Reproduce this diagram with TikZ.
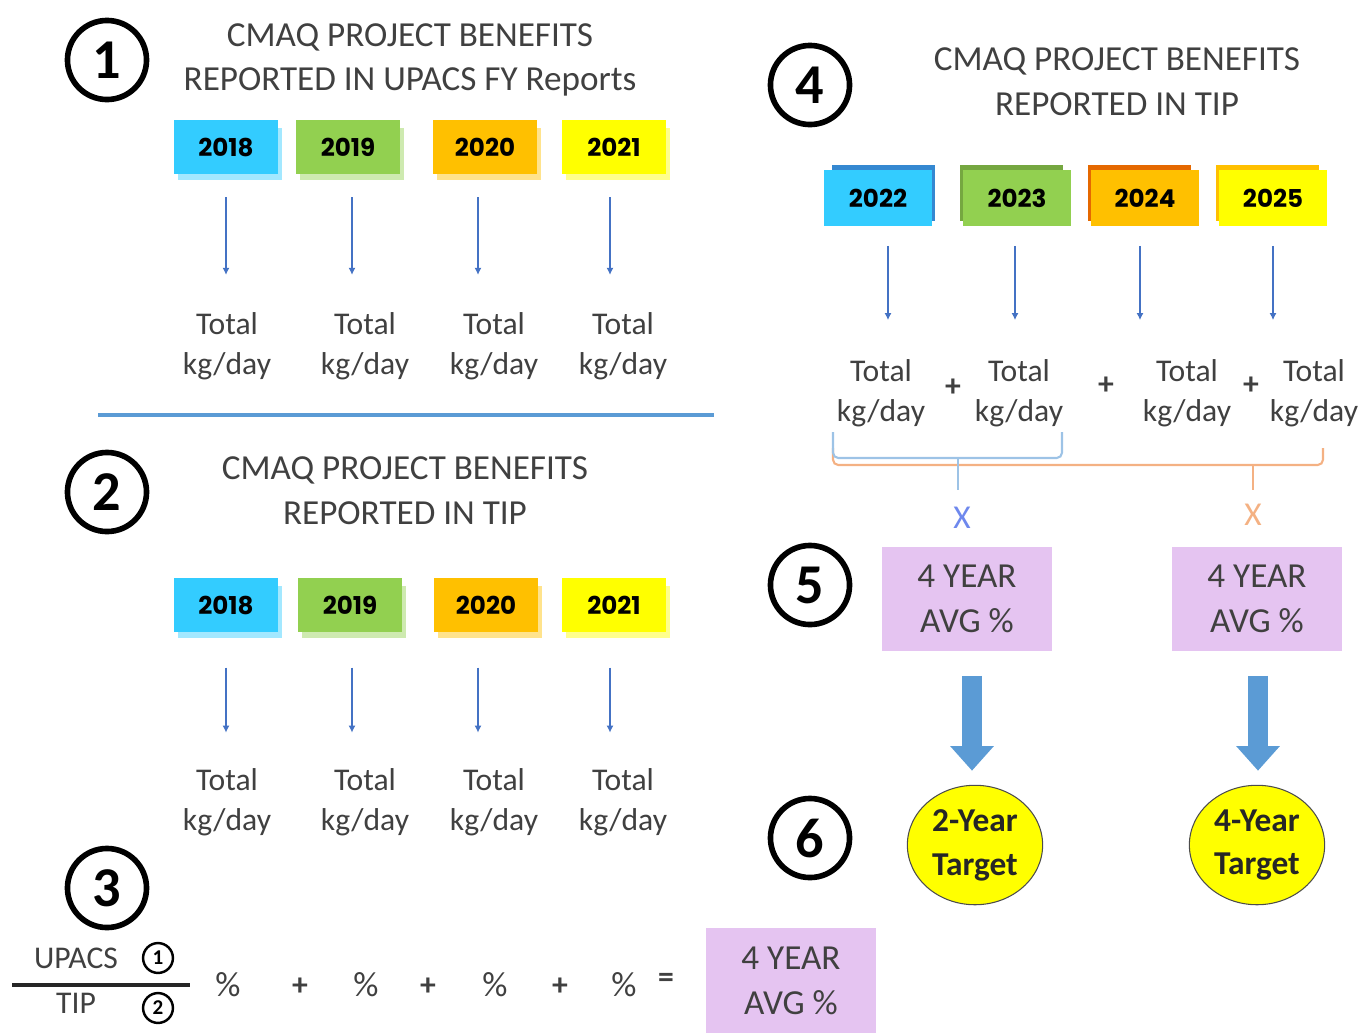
\documentclass[tikz,border=0pt]{standalone}
\usepackage{fontspec}
\setmainfont{Carlito}
\newfontfamily\yearfont{Poppins}
\usetikzlibrary{arrows.meta,calc,shapes.geometric}
\definecolor{txtgray}{RGB}{64,64,64}
\definecolor{cyanbox}{RGB}{51,204,255}
\definecolor{greenbox}{RGB}{146,208,80}
\definecolor{orangebox}{RGB}{255,192,0}
\definecolor{yellowbox}{RGB}{255,255,0}
\definecolor{thinblue}{RGB}{68,114,196}
\definecolor{bigblue}{RGB}{91,155,213}
\definecolor{lilac}{RGB}{229,196,241}
\definecolor{bracecol}{RGB}{157,195,230}
\definecolor{orangebr}{RGB}{244,177,131}
\tikzset{
  numcirc/.style={circle, draw=black, line width=3.2pt, minimum size=45pt, inner sep=0pt,
    font=\fontsize{32}{32}\selectfont\bfseries},
  smallcirc/.style={circle, draw=black, line width=1.4pt, minimum size=17pt, inner sep=0pt,
    font=\fontsize{12}{12}\selectfont\bfseries},
  head/.style={text=txtgray, align=center, font=\fontsize{20}{25.5}\selectfont},
  yearbox/.style={minimum width=59pt, minimum height=31pt, inner sep=0pt,
    font=\yearfont\bfseries\fontsize{14}{14}\selectfont},
  yearboxb/.style={minimum width=61pt, minimum height=32pt, inner sep=0pt,
    font=\yearfont\bfseries\fontsize{14}{14}\selectfont},
  total/.style={text=txtgray, align=center, font=\fontsize{18}{23}\selectfont, inner sep=0pt},
  thinarrow/.style={draw=thinblue, line width=0.7pt, -{Latex[length=4pt,width=4pt]}},
  avgbox/.style={fill=lilac, minimum width=97pt, minimum height=59pt, align=center, inner sep=0pt,
    text=txtgray, font=\fontsize{20}{25.5}\selectfont},
  target/.style={ellipse, draw=black!70, line width=0.6pt, fill=yellowbox, minimum width=77pt,
    minimum height=68pt, inner sep=0pt, align=center, text=black!85,
    font=\fontsize{19}{25}\selectfont\bfseries},
  bigarrow/.style={draw=bigblue, line width=11pt, -{Triangle[length=14pt,width=24pt]}},
  op/.style={text=txtgray, font=\fontsize{18}{18}\selectfont\bfseries, inner sep=0pt},
  pct/.style={text=txtgray, font=\fontsize{20}{20}\selectfont, inner sep=0pt},
}
\begin{document}
\begin{tikzpicture}[x=0.02cm,y=-0.02cm]
\useasboundingbox (0,0) rectangle (1369,1032);

% ---------- Section 1 ----------
\node[numcirc] (c1) at (107,60) {1};
\node[head] (h1) at (410,60) {CMAQ PROJECT BENEFITS\\REPORTED IN UPACS FY Reports};

\foreach \nm/\x/\col/\yr in {a/226/cyanbox/2018, b/348/greenbox/2019, c/485/orangebox/2020, d/614/yellowbox/2021}{
  \fill[\col!45] (\x-48,128) rectangle (\x+56,180);
  \node[yearbox, fill=\col] (y1\nm) at (\x,147) {\yr};
}
\foreach \nm/\x in {a/227, b/365, c/494, d/623}{
  \node[total] (t1\nm) at (\x,346) {Total\\kg/day};
}
\foreach \nm/\dx in {a/0, b/4, c/-7, d/-4}{
  \draw[thinarrow, shorten <=13pt, shorten >=21pt] ([xshift=\dx*0.02cm]y1\nm.south) -- ([xshift=\dx*0.02cm]y1\nm.south |- t1\nm.north);
}

\draw[bigblue, line width=2.2pt] (98,415) -- (714,415);

% ---------- Section 2 ----------
\node[numcirc] (c2) at (107,492) {2};
\node[head] (h2) at (405,491) {CMAQ PROJECT BENEFITS\\REPORTED IN TIP};
\foreach \nm/\x/\col/\yr in {a/226/cyanbox/2018, b/350/greenbox/2019, c/486/orangebox/2020, d/614/yellowbox/2021}{
  \fill[\col!45] (\x-48,586) rectangle (\x+56,638);
  \node[yearbox, fill=\col] (y2\nm) at (\x,605) {\yr};
}
\foreach \nm/\x in {a/227, b/365, c/494, d/623}{
  \node[total] (t2\nm) at (\x,802) {Total\\kg/day};
}
\foreach \nm/\dx in {a/0, b/2, c/-8, d/-4}{
  \draw[thinarrow, shorten <=20pt, shorten >=20pt] ([xshift=\dx*0.02cm]y2\nm.south) -- ([xshift=\dx*0.02cm]y2\nm.south |- t2\nm.north);
}

% ---------- Section 3 ----------
\node[numcirc] (c3) at (107,888) {3};
\node[text=txtgray, font=\fontsize{18}{18}\selectfont] (up) at (76,958) {UPACS};
\node[text=txtgray, font=\fontsize{18}{18}\selectfont] (tip) at (76,1003) {TIP};
\node[smallcirc] (s1) at (158,958) {1};
\node[smallcirc] (s2) at (158,1008) {2};
\coordinate (fl) at (12,985);
\coordinate (fr) at (190,985);
\draw[black!85, line width=1.8pt] (fl) -- (fr);
\node[pct] (p1) at (228,985) {\%};
\node[op] (o1) at (300,987) {+};
\node[pct] (p2) at (366,985) {\%};
\node[op] (o2) at (428,987) {+};
\node[pct] (p3) at (495,985) {\%};
\node[op] (o3) at (560,987) {+};
\node[pct] (p4) at (624,985) {\%};
\node[op] (eq) at (666,980) {=};
\node[avgbox, minimum width=97pt, minimum height=60pt] (avg0) at (791,981) {4 YEAR\\AVG \%};

% ---------- Section 4 ----------
\node[numcirc] (c4) at (810,85) {4};
\node[head] (h4) at (1117,82) {CMAQ PROJECT BENEFITS\\REPORTED IN TIP};
\fill[cyanbox!75!blue!80!black!90] (832,165) rectangle (935,221);
\node[yearboxb, fill=cyanbox] (y3a) at (878,198) {2022};
\fill[greenbox!80!black] (960,165) rectangle (1063,221);
\node[yearboxb, fill=greenbox] (y3b) at (1017,198) {2023};
\fill[orangebox!60!red!90!black] (1088,165) rectangle (1191,221);
\node[yearboxb, fill=orangebox] (y3c) at (1145,198) {2024};
\fill[orangebox] (1216,165) rectangle (1319,221);
\node[yearboxb, fill=yellowbox] (y3d) at (1273,198) {2025};

\node[total] (t3a) at (881,393) {Total\\kg/day};
\node[total] (t3b) at (1019,393) {Total\\kg/day};
\node[total] (t3c) at (1187,393) {Total\\kg/day};
\node[total] (t3d) at (1314,393) {Total\\kg/day};
\foreach \nm/\dx in {a/10, b/-2, c/-5, d/0}{
  \draw[thinarrow, shorten <=11pt, shorten >=22pt] ([xshift=\dx*0.02cm]y3\nm.south) -- ([xshift=\dx*0.02cm]y3\nm.south |- t3\nm.north);
}
\node[op] (pa) at (953,388) {+};
\node[op] (pb) at (1106,386) {+};
\node[op] (pc) at (1251,386) {+};

% braces
\coordinate (ol) at (833,448);
\coordinate (or) at (1323,448);
\coordinate (ot) at (1253,490);
\coordinate (bl) at (833,432);
\coordinate (br) at (1062,432);
\coordinate (bt) at (958,490);
\draw[orangebr, line width=1.2pt, rounded corners=3pt] (ol) -- (833,465) -- (1323,465) -- (or);
\draw[orangebr, line width=1.2pt] (ot |- 0,465) -- (ot);
\draw[bracecol, line width=1.2pt, rounded corners=3pt] (bl) -- (833,458) -- (1062,458) -- (br);
\draw[bracecol, line width=1.2pt] (bt |- 0,458) -- (bt);
\node[text=bracecol!70!blue, font=\fontsize{19}{19}\selectfont] (xa) at (962,518) {X};
\node[text=orangebr, font=\fontsize{19}{19}\selectfont] (xb) at (1253,515) {X};

% ---------- Section 5 ----------
\node[numcirc] (c5) at (810,585) {5};
\node[avgbox] (avg1) at (967,599) {4 YEAR\\AVG \%};
\node[avgbox] (avg2) at (1257,599) {4 YEAR\\AVG \%};

% ---------- Section 6 ----------
\node[numcirc] (c6) at (810,838) {6};
\node[target] (tg1) at (975,845) {2-Year\\Target};
\node[target] (tg2) at (1257,845) {4-Year\\Target};

\draw[bigarrow, shorten <=14pt, shorten >=8pt] ([xshift=5*0.02cm]avg1.south) -- ([xshift=5*0.02cm]avg1.south |- tg1.north);
\draw[bigarrow, shorten <=14pt, shorten >=8pt] ([xshift=1*0.02cm]avg2.south) -- ([xshift=1*0.02cm]avg2.south |- tg2.north);
\end{tikzpicture}
\end{document}
